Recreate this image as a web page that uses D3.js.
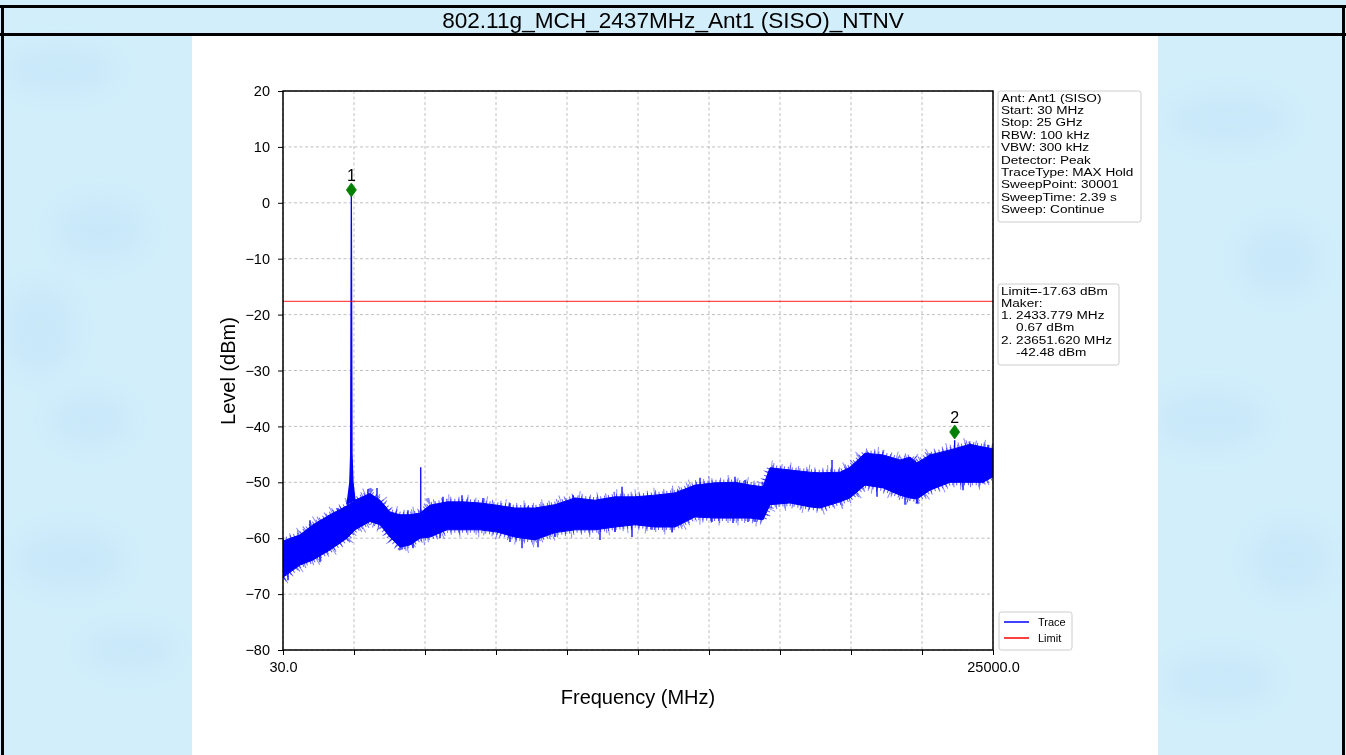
<!DOCTYPE html>
<html>
<head>
<meta charset="utf-8">
<script src="https://cdn.jsdelivr.net/npm/d3@7"></script>
<style>
html,body{margin:0;padding:0;background:#d2eefb;}
svg{display:block;}
text{font-family:"Liberation Sans",Arial,sans-serif;}
</style>
</head>
<body>
<svg id="chart" width="1346" height="755"></svg>
<script>
// ---------------- data ----------------
const titleText = "802.11g_MCH_2437MHz_Ant1 (SISO)_NTNV";
const yTicks = [-80, -70, -60, -50, -40, -30, -20, -10, 0, 10, 20];
const xTicks = [30, 2527, 5024, 7521, 10018, 12515, 15012, 17509, 20006, 22503, 25000];
const xTickLabels = ["30.0", "", "", "", "", "", "", "", "", "", "25000.0"];

// noise-band envelope of the trace (MHz, dBm)
const bandFreq = [30, 628, 1085, 1683, 2281, 2562, 3090, 3441, 3793, 4145, 4497, 4848, 5200, 5798, 6360, 6958, 7556, 8189, 8892, 9596, 10299, 11002, 11706, 12409, 13112, 13816, 14520, 15223, 15926, 16454, 16911, 17157, 17861, 18564, 18916, 19619, 19971, 20498, 21131, 21729, 22081, 22327, 22784, 23488, 24192, 24649, 25000];
const bandHigh = [-60.5, -59.4, -57.6, -55.8, -54.2, -53.2, -52.0, -53.2, -55.3, -55.8, -55.8, -55.5, -54.1, -53.5, -53.5, -53.7, -54.1, -54.6, -54.6, -54.0, -52.8, -53.2, -52.6, -52.6, -52.3, -51.9, -50.5, -50.1, -50.0, -50.5, -50.8, -47.4, -47.8, -48.2, -48.3, -48.2, -47.3, -44.8, -45.1, -46.0, -45.5, -46.5, -45.1, -44.2, -43.2, -43.7, -44.0];
const bandLow = [-67.0, -64.8, -63.9, -62.1, -60.0, -58.5, -57.0, -57.6, -59.8, -61.6, -61.2, -60.0, -59.8, -58.5, -58.5, -58.5, -58.9, -59.8, -60.3, -59.0, -58.5, -58.5, -58.0, -57.6, -58.0, -58.0, -56.2, -56.4, -56.4, -56.4, -56.7, -54.0, -53.7, -54.4, -54.6, -53.5, -52.8, -50.5, -51.0, -52.3, -52.8, -53.0, -51.4, -50.0, -50.0, -50.0, -49.0];

// carrier peak shape (MHz, dBm)
const peakFreq = [2281, 2380, 2410, 2433.779, 2457, 2490, 2562];
const peakLevel = [-54.0, -50.0, -45.0, 0.67, -45.0, -50.0, -53.2];

// isolated spikes above / below the band (MHz, dBm)
const upSpikeFreq = [980, 1964, 3019, 3336, 4426, 4874, 5657, 6325, 7064, 8013, 8646, 10229, 11600, 11952, 13006, 13922, 14696, 15223, 15926, 16278, 16560, 19338, 20604, 22785, 23651.62, 24191, 24824];
const upSpikeLevel = [-56.8, -54.6, -51.2, -51.0, -55.0, -47.3, -52.6, -52.3, -52.8, -53.7, -54.3, -52.3, -53.2, -50.8, -52.6, -51.4, -49.2, -50.1, -49.0, -49.6, -50.5, -46.0, -44.6, -44.8, -42.48, -43.0, -43.3];
const downSpikeFreq = [206, 1331, 4215, 4602, 5552, 8013, 8436, 8998, 9596, 11179, 11706, 12304, 13006, 13711, 15117, 15856, 16384, 16630, 18740, 20921, 21906, 22328, 23946, 24649];
const downSpikeLevel = [-67.5, -64.3, -62.0, -61.8, -60.0, -60.7, -61.8, -61.6, -59.8, -60.3, -58.9, -59.8, -58.5, -59.0, -57.1, -57.3, -57.1, -57.1, -54.6, -52.6, -54.0, -53.7, -51.4, -50.2];

const limitLevel = -17.63;
const markerNames = ["1", "2"];
const markerFreq = [2433.779, 23651.62];
const markerLevel = [0.67, -42.48];
const markerDrawnLevel = [2.3, -41.0];   // where the diamonds sit in the picture

const infoLines = ["Ant: Ant1 (SISO)", "Start: 30 MHz", "Stop: 25 GHz", "RBW: 100 kHz", "VBW: 300 kHz", "Detector: Peak", "TraceType: MAX Hold", "SweepPoint: 30001", "SweepTime: 2.39 s", "Sweep: Continue"];
const markerLines = ["Limit=-17.63 dBm", "Maker:", "1. 2433.779 MHz", "    0.67 dBm", "2. 23651.620 MHz", "    -42.48 dBm"];
const legendNames = ["Trace", "Limit"];
const legendColors = ["#0000ff", "#ff0000"];

// ---------------- drawing ----------------
const svg = d3.select("#chart");
const W = 1346, H = 755;

// page background with faint blotches
svg.append("rect").attr("width", W).attr("height", H).attr("fill", "#d2eefb");
const defs = svg.append("defs");
defs.append("filter").attr("id", "blur").append("feGaussianBlur").attr("stdDeviation", 12);
const blobs = [[60,70,55,22],[100,230,45,30],[40,330,35,45],[90,420,40,25],[70,560,55,30],[130,650,45,20],[1230,120,60,25],[1280,260,40,35],[1210,420,55,28],[1290,560,40,35],[1220,680,55,25]];
svg.append("g").attr("filter", "url(#blur)").selectAll("ellipse").data(blobs).join("ellipse")
  .attr("cx", d => d[0]).attr("cy", d => d[1]).attr("rx", d => d[2]).attr("ry", d => d[3])
  .attr("fill", "#bfe4f7").attr("opacity", 0.5);

// frame lines
const frame = svg.append("g").attr("fill", "#000");
frame.append("rect").attr("x", 0).attr("y", 5).attr("width", W).attr("height", 3);
frame.append("rect").attr("x", 0).attr("y", 33).attr("width", W).attr("height", 3);
frame.append("rect").attr("x", 1).attr("y", 5).attr("width", 3).attr("height", H);
frame.append("rect").attr("x", 1342).attr("y", 5).attr("width", 3).attr("height", H);

svg.append("text").attr("x", 673).attr("y", 28).attr("text-anchor", "middle")
  .attr("font-size", 22.6).attr("fill", "#000").text(titleText);

// white figure panel
svg.append("rect").attr("x", 192).attr("y", 36).attr("width", 966).attr("height", H - 36).attr("fill", "#fff");

const L = 283, R = 993, T = 91, B = 650;
const x = d3.scaleLinear().domain([30, 25000]).range([L, R]);
const y = d3.scaleLinear().domain([-80, 20]).range([B, T]);

// grid
const grid = svg.append("g").attr("stroke", "#b0b0b0").attr("stroke-width", 0.8).attr("stroke-dasharray", "3,2.5");
grid.selectAll(".gx").data(xTicks).join("line").attr("x1", d => x(d)).attr("x2", d => x(d)).attr("y1", T).attr("y2", B);
grid.selectAll(".gy").data(yTicks).join("line").attr("x1", L).attr("x2", R).attr("y1", d => y(d)).attr("y2", d => y(d));

// plot clip
defs.append("clipPath").attr("id", "plotclip").append("rect").attr("x", L).attr("y", T).attr("width", R - L).attr("height", B - T);
const plot = svg.append("g").attr("clip-path", "url(#plotclip)");

// trace band
const band = bandFreq.map((f, i) => ({f, hi: bandHigh[i], lo: bandLow[i]}));
plot.append("path").datum(band)
  .attr("d", d3.area().x(d => x(d.f)).y0(d => y(d.lo)).y1(d => y(d.hi)))
  .attr("fill", "#0000ff").attr("stroke", "#0000ff").attr("stroke-width", 1);

// fuzzy fringe along the band edges (pure stroke styling)
const hiLine = d3.line().x(d => x(d.f)).y(d => y(d.hi));
const loLine = d3.line().x(d => x(d.f)).y(d => y(d.lo));
const fringe = [
  {w: 6, dash: "1 2.9", op: 0.65},
  {w: 10, dash: "1 7.3", op: 0.55},
  {w: 15, dash: "1 17.9", op: 0.45}
];
fringe.forEach(s => {
  [hiLine, loLine].forEach(gen => {
    plot.append("path").datum(band).attr("d", gen)
      .attr("fill", "none").attr("stroke", "#0000ff").attr("stroke-width", s.w)
      .attr("stroke-dasharray", s.dash).attr("stroke-opacity", s.op);
  });
});

const hiAt = d3.scaleLinear().domain(bandFreq).range(bandHigh);
const loAt = d3.scaleLinear().domain(bandFreq).range(bandLow);

// spikes
plot.append("g").selectAll("line").data(upSpikeFreq.map((f, i) => [f, upSpikeLevel[i]])).join("line")
  .attr("x1", d => x(d[0])).attr("x2", d => x(d[0]))
  .attr("y1", d => y(d[1])).attr("y2", d => y(loAt(d[0])))
  .attr("stroke", "#0000ff").attr("stroke-width", 1.3);
plot.append("g").selectAll("line").data(downSpikeFreq.map((f, i) => [f, downSpikeLevel[i]])).join("line")
  .attr("x1", d => x(d[0])).attr("x2", d => x(d[0]))
  .attr("y1", d => y(d[1])).attr("y2", d => y(hiAt(d[0])))
  .attr("stroke", "#0000ff").attr("stroke-width", 1.3);

// carrier peak
plot.append("path").datum(peakFreq.map((f, i) => [f, peakLevel[i]]))
  .attr("d", d3.line().x(d => x(d[0])).y(d => y(d[1])))
  .attr("fill", "#0000ff").attr("stroke", "#0000ff").attr("stroke-width", 1.3);
plot.append("line").attr("x1", x(markerFreq[0])).attr("x2", x(markerFreq[0]))
  .attr("y1", y(markerLevel[0])).attr("y2", y(markerDrawnLevel[0])).attr("stroke", "#0000ff").attr("stroke-width", 1.3);

// limit line
plot.append("line").attr("x1", L).attr("x2", R).attr("y1", y(limitLevel)).attr("y2", y(limitLevel))
  .attr("stroke", "#ff0000").attr("stroke-opacity", 0.7).attr("stroke-width", 1.4);

// markers
const mk = svg.append("g");
markerFreq.forEach((f, i) => {
  const cx = x(f), cy = y(markerDrawnLevel[i]);
  mk.append("path").attr("d", `M${cx},${cy - 7}L${cx + 5},${cy}L${cx},${cy + 7}L${cx - 5},${cy}Z`)
    .attr("fill", "#008000").attr("stroke", "#008000").attr("stroke-width", 0.8);
  mk.append("text").attr("x", cx).attr("y", cy - 9).attr("text-anchor", "middle")
    .attr("font-size", 16).attr("fill", "#000").text(markerNames[i]);
});

// axes
const yAxis = d3.axisLeft(y).tickValues(yTicks).tickSize(5).tickPadding(8)
  .tickFormat(d => d < 0 ? "\u2212" + Math.abs(d) : String(d));
const gy = svg.append("g").attr("transform", `translate(${L},0)`).call(yAxis);
const xAxis = d3.axisBottom(x).tickValues(xTicks).tickSize(5).tickPadding(7)
  .tickFormat((d, i) => xTickLabels[i]);
const gx = svg.append("g").attr("transform", `translate(0,${B})`).call(xAxis);
[gx, gy].forEach(g => {
  g.select(".domain").remove();
  g.selectAll(".tick line").attr("stroke", "#000").attr("stroke-width", 1);
  g.selectAll(".tick text").attr("font-size", 14.5).attr("fill", "#000").attr("font-family", "Liberation Sans, Arial, sans-serif");
});
svg.append("rect").attr("x", L).attr("y", T).attr("width", R - L).attr("height", B - T)
  .attr("fill", "none").attr("stroke", "#000").attr("stroke-width", 1.5);

// axis labels
svg.append("text").attr("x", 638).attr("y", 704).attr("text-anchor", "middle").attr("font-size", 20).attr("fill", "#000").text("Frequency (MHz)");
svg.append("text").attr("transform", "translate(235,371) rotate(-90)").attr("text-anchor", "middle").attr("font-size", 20).attr("fill", "#000").text("Level (dBm)");

// info boxes (text slightly compressed vertically so lines do not overlap)
function box(x0, y0, w, h, lines, lh, fs, sx) {
  const g = svg.append("g");
  g.append("rect").attr("x", x0).attr("y", y0).attr("width", w).attr("height", h).attr("rx", 2.5)
    .attr("fill", "#fff").attr("stroke", "#cccccc").attr("stroke-width", 1);
  g.selectAll("text").data(lines).join("text")
    .attr("transform", (d, i) => `translate(${x0 + 3},${y0 + 10.5 + i * lh}) scale(${sx},1)`)
    .attr("font-size", fs).attr("fill", "#000")
    .style("white-space", "pre").text(d => d);
}
box(998, 91, 143, 131, infoLines, 12.4, 10.8, 1.26);
box(998, 284, 121, 81, markerLines, 12.3, 10.8, 1.26);

// legend
const lg = svg.append("g");
lg.append("rect").attr("x", 999).attr("y", 612).attr("width", 73).attr("height", 38).attr("rx", 2.5)
  .attr("fill", "#fff").attr("stroke", "#cccccc");
legendNames.forEach((n, i) => {
  const yy = 622 + i * 16;
  lg.append("line").attr("x1", 1004).attr("x2", 1029).attr("y1", yy).attr("y2", yy).attr("stroke", legendColors[i]).attr("stroke-width", 1.5);
  lg.append("text").attr("x", 1038).attr("y", yy + 4).attr("font-size", 11).attr("fill", "#000").text(n);
});
</script>
</body>
</html>
